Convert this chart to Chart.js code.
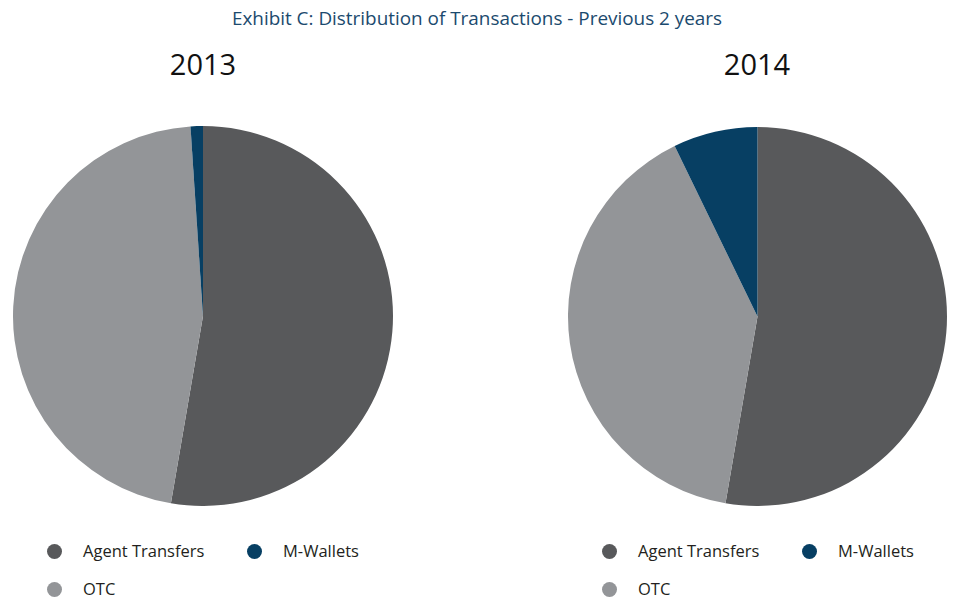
<!DOCTYPE html>
<html>
<head>
<meta charset="utf-8">
<script src="https://cdn.jsdelivr.net/npm/chart.js@4/dist/chart.umd.min.js"></script>
<style>
  html, body { margin:0; padding:0; background:#fff; width:954px; height:598px; overflow:hidden; font-family:"Open Sans", sans-serif; }
  .abs { position:absolute; }
  #title { left:0; top:5px; width:954px; text-align:center; font-size:18.9px; color:#1b4a6e; }
  .year { font-size:29px; color:#111; width:200px; text-align:center; top:44px; }
  .leg { font-size:16.5px; color:#231f20; }
  .dot { width:15px; height:15px; border-radius:50%; }
</style>
</head>
<body>
<div id="title" class="abs">Exhibit C: Distribution of Transactions - Previous 2 years</div>
<div id="y0" class="abs year" style="left:103px;"></div>
<div id="y1" class="abs year" style="left:657px;"></div>
<div class="abs" style="left:13px; top:126px; width:380px; height:380px;"><canvas id="c0"></canvas></div>
<div class="abs" style="left:568px; top:127px; width:379px; height:379px;"><canvas id="c1"></canvas></div>
<div id="legends"></div>
<script>
const years = ["2013", "2014"];
const categories = ["Agent Transfers", "OTC", "M-Wallets"];
const values2013 = [52.7, 46.25, 1.05];
const values2014 = [52.7, 40.1, 7.2];
const colors = ["#58595b", "#939598", "#073f63"];
const legendOrder = ["Agent Transfers", "M-Wallets", "OTC"];

const series = [values2013, values2014];
years.forEach((y, i) => {
  document.getElementById("y" + i).textContent = y;
  new Chart(document.getElementById("c" + i), {
    type: "pie",
    data: {
      labels: categories,
      datasets: [{
        data: series[i],
        backgroundColor: colors,
        borderWidth: 0,
        hoverOffset: 0,
        offset: 0
      }]
    },
    options: {
      responsive: true,
      maintainAspectRatio: false,
      animation: false,
      layout: { padding: 0 },
      plugins: { legend: { display: false }, title: { display: false }, tooltip: { enabled: false } }
    }
  });
});

// HTML legends
const legWrap = document.getElementById("legends");
const legPos = [[0, 0], [200, 0], [0, 38]];
[0, 555].forEach(off => {
  legendOrder.forEach((name, k) => {
    const ci = categories.indexOf(name);
    const [dx, dy] = legPos[k];
    const d = document.createElement("div");
    d.className = "abs dot";
    d.style.left = (47 + off + dx) + "px";
    d.style.top = (544 + dy) + "px";
    d.style.background = colors[ci];
    legWrap.appendChild(d);
    const t = document.createElement("div");
    t.className = "abs leg";
    t.style.left = (83 + off + dx) + "px";
    t.style.top = (539 + dy) + "px";
    t.textContent = name;
    legWrap.appendChild(t);
  });
});
</script>
</body>
</html>
